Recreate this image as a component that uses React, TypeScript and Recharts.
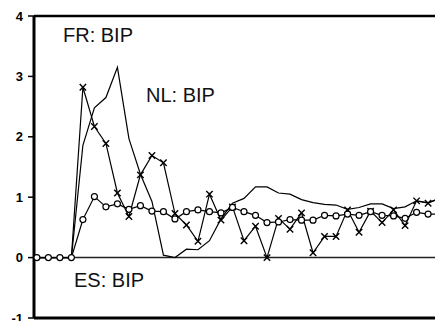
import { Line, LineChart, ReferenceLine, XAxis, YAxis } from 'recharts';

// quarter index along the x axis (no labels are shown in the chart)
const periods = Array.from({ length: 36 }, (_, i) => i);

const nlBip = [
  0, 0, 0, 0, 1.86, 2.48, 2.65, 3.15, 1.97, 1.38, 0.93, 0.04, 0.0, 0.14, 0.13, 0.28, 0.64, 0.9,
  0.98, 1.17, 1.17, 1.07, 1.05, 0.96, 0.91, 0.88, 0.87, 0.8, 0.83, 0.89, 0.89, 0.81, 0.84, 0.94,
  0.91, 0.97,
];
const frBip = [
  0, 0, 0, 0, 2.82, 2.17, 1.89, 1.07, 0.68, 1.37, 1.69, 1.57, 0.73, 0.54, 0.27, 1.05, 0.62, 0.84,
  0.28, 0.52, 0.0, 0.65, 0.47, 0.74, 0.08, 0.35, 0.35, 0.79, 0.42, 0.77, 0.58, 0.79, 0.53, 0.94,
  0.9, 0.99,
];
const esBip = [
  0, 0, 0, 0, 0.63, 1.01, 0.84, 0.89, 0.8, 0.86, 0.77, 0.76, 0.64, 0.76, 0.79, 0.76, 0.74, 0.83,
  0.76, 0.7, 0.58, 0.59, 0.63, 0.62, 0.62, 0.7, 0.69, 0.72, 0.7, 0.76, 0.7, 0.69, 0.65, 0.75,
  0.72, 0.72,
];
const yTicks = [-1, 0, 1, 2, 3, 4];

const rows = periods.map((i) => ({ i, nl: nlBip[i], fr: frBip[i], es: esBip[i] }));

const font = '"Liberation Sans", Arial, sans-serif';

const Cross = (props: any) => {
  const { cx, cy, index } = props;
  if (cx == null || cy == null || index < 4) return null;
  const s = 3.2;
  return (
    <path
      key={`x-${index}`}
      d={`M${cx - s},${cy - s}L${cx + s},${cy + s}M${cx - s},${cy + s}L${cx + s},${cy - s}`}
      stroke="#000"
      strokeWidth={1.4}
      fill="none"
    />
  );
};

export default function App() {
  return (
    <div style={{ position: 'absolute', left: 0, top: 0, width: 435, height: 321, background: '#fff' }}>
      <LineChart width={435} height={321} data={rows} margin={{ top: 16, right: 0, bottom: 3, left: 0 }}>
        <XAxis dataKey="i" type="number" domain={[-0.25, 34.6]} hide allowDataOverflow />
        <YAxis
          domain={[-1, 4]}
          ticks={yTicks}
          interval={0}
          width={34}
          tickSize={6}
          tickMargin={5}
          axisLine={{ stroke: '#000', strokeWidth: 3 }}
          tickLine={{ stroke: '#000', strokeWidth: 1.5 }}
          tick={{ fill: '#000', fontSize: 13, fontWeight: 'bold', fontFamily: font }}
        />
        <ReferenceLine y={4} stroke="#000" strokeWidth={2.5} />
        <ReferenceLine y={-1} stroke="#000" strokeWidth={3} />
        <ReferenceLine y={0} stroke="#222" strokeWidth={1.5} />
        <Line dataKey="nl" stroke="#000" strokeWidth={1.2} dot={false} isAnimationActive={false} />
        <Line dataKey="fr" stroke="#000" strokeWidth={1.2} dot={<Cross />} isAnimationActive={false} />
        <Line
          dataKey="es"
          stroke="#000"
          strokeWidth={1.2}
          dot={{ r: 3, fill: '#fff', stroke: '#000', strokeWidth: 1.2 }}
          isAnimationActive={false}
        />
      </LineChart>
      <svg
        width={435}
        height={321}
        style={{ position: 'absolute', left: 0, top: 0, pointerEvents: 'none' }}
      >
        <g fontFamily={font} fontSize={20} fill="#111">
          <text x={63} y={42}>FR: BIP</text>
          <text x={146} y={102}>NL: BIP</text>
          <text x={74} y={287}>ES: BIP</text>
        </g>
      </svg>
    </div>
  );
}
